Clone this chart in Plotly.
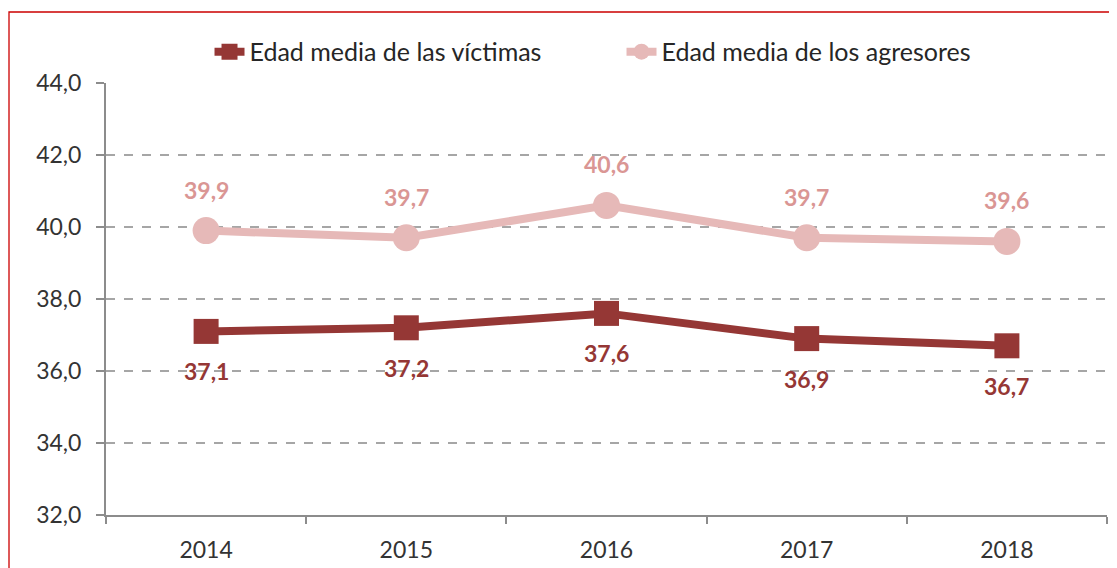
import plotly.graph_objects as go

years = ["2014", "2015", "2016", "2017", "2018"]
victimas = [37.1, 37.2, 37.6, 36.9, 36.7]
agresores = [39.9, 39.7, 40.6, 39.7, 39.6]
victimas_labels = ["37,1", "37,2", "37,6", "36,9", "36,7"]
agresores_labels = ["39,9", "39,7", "40,6", "39,7", "39,6"]
y_ticks = [32, 34, 36, 38, 40, 42, 44]

C_VIC = "#953735"
C_AGR = "#E6B9B8"
C_AGR_TXT = "#DA9694"
FONT = "Lato"

fig = go.Figure()
fig.add_trace(go.Scatter(
    x=years, y=victimas, name="Edad media de las víctimas",
    mode="lines+markers",
    line=dict(color=C_VIC, width=8),
    marker=dict(symbol="square", size=25, color=C_VIC),
))
fig.add_trace(go.Scatter(
    x=years, y=agresores, name="Edad media de los agresores",
    mode="lines+markers",
    line=dict(color=C_AGR, width=8),
    marker=dict(symbol="circle", size=27, color=C_AGR),
))

annotations = []
for i, (yv, t) in enumerate(zip(victimas, victimas_labels)):
    annotations.append(dict(x=i, y=yv, xref="x", yref="y", text=f"<b>{t}</b>", showarrow=False,
                            yshift=-40, font=dict(family=FONT, size=23, color=C_VIC)))
for i, (yv, t) in enumerate(zip(agresores, agresores_labels)):
    annotations.append(dict(x=i, y=yv, xref="x", yref="y", text=f"<b>{t}</b>", showarrow=False,
                            yshift=41, font=dict(family=FONT, size=23, color=C_AGR_TXT)))

fig.update_layout(
    width=1117, height=568,
    margin=dict(l=98, r=18, t=75, b=61),
    paper_bgcolor="white", plot_bgcolor="white",
    separators=",.",
    font=dict(family=FONT, size=23, color="#333333"),
    showlegend=True,
    legend=dict(orientation="h", x=0.515, xanchor="center", y=1.072, yanchor="middle",
                entrywidth=367, entrywidthmode="pixels",
                font=dict(family=FONT, size=25, color="#262626"), bgcolor="rgba(0,0,0,0)"),
    annotations=annotations,
    shapes=[dict(type="rect", xref="paper", yref="paper",
                 x0=-0.0969, x1=1.2, y0=-0.5, y1=1.1644,
                 line=dict(color="#CC0000", width=1.3), fillcolor="rgba(0,0,0,0)", layer="below")],
)
fig.update_xaxes(
    type="category", range=[-0.5, 4.5], tickson="boundaries",
    ticks="outside", ticklen=7, tickwidth=2, tickcolor="#8C8C8C",
    showline=True, linecolor="#8C8C8C", linewidth=2,
    showgrid=False, zeroline=False,
    tickfont=dict(family=FONT, size=23, color="#333333"),
    ticklabelstandoff=13,
)
fig.update_yaxes(
    range=[32, 44], tickvals=y_ticks, tickformat=".1f",
    ticks="outside", ticklen=8, tickwidth=2, tickcolor="#8C8C8C",
    showline=True, linecolor="#8C8C8C", linewidth=2,
    showgrid=True, gridcolor="#A6A6A6", griddash="dash", gridwidth=2,
    zeroline=False,
    tickfont=dict(family=FONT, size=23, color="#333333"),
    ticklabelstandoff=10,
)

fig.write_html("out.html")
